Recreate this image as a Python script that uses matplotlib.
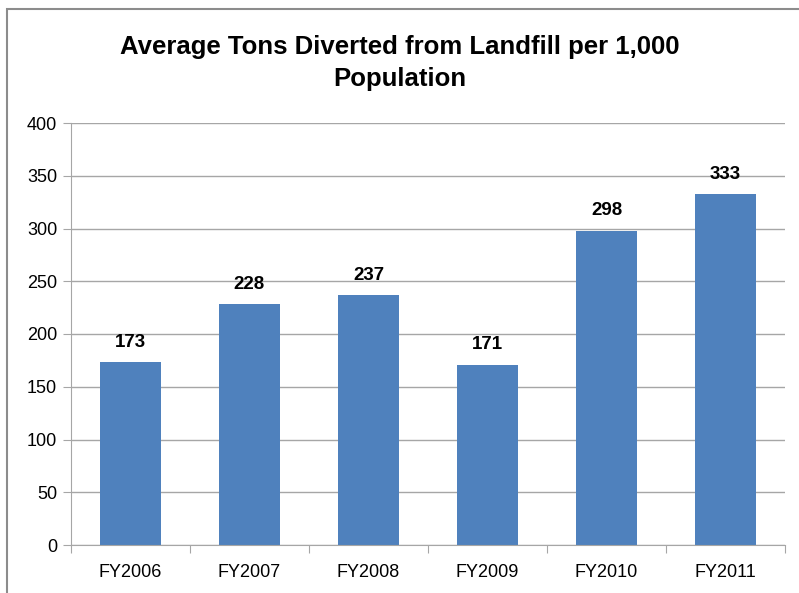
import matplotlib.pyplot as plt
from matplotlib.patches import Rectangle

years = ["FY2006", "FY2007", "FY2008", "FY2009", "FY2010", "FY2011"]
tons = [173, 228, 237, 171, 298, 333]

plt.rcParams["font.family"] = ["Liberation Sans", "DejaVu Sans"]

fig = plt.figure(figsize=(7.99, 5.93), dpi=100)
# outer chart frame (cut off at right and bottom like the screenshot)
fig.patches.append(Rectangle((7 / 799, -0.1), 1.2, (593 - 9) / 593 + 0.1,
                             transform=fig.transFigure, fill=False,
                             edgecolor="#8c8c8c", linewidth=1.5))

ax = fig.add_axes([71 / 799, 1 - 545 / 593, (785 - 71) / 799, (545 - 123) / 593])
x = range(len(years))
ax.bar(x, tons, width=0.52, color="#4F81BD", zorder=2)
for xi, v in zip(x, tons):
    ax.annotate(str(v), (xi, v), xytext=(0, 8), textcoords="offset points",
                ha="center", va="bottom", fontsize=13.5, fontweight="bold")

ax.set_xlim(-0.5, len(years) - 0.5)
ax.set_ylim(0, 400)
ax.set_yticks(range(0, 401, 50))
ax.yaxis.grid(True, color="#a6a6a6", linewidth=1.0, zorder=0)
ax.set_axisbelow(True)
ax.set_xticks([i + 0.5 for i in range(-1, len(years))], minor=False)
ax.set_xticklabels([])
ax.set_xticks(list(x), minor=True)
ax.set_xticklabels(years, minor=True)
ax.tick_params(axis="x", which="major", length=6, color="#a6a6a6")
ax.tick_params(axis="x", which="minor", length=0, pad=14, labelsize=13)
ax.tick_params(axis="y", length=6, color="#a6a6a6", labelsize=13, pad=4)
for s in ["top", "right"]:
    ax.spines[s].set_visible(False)
ax.spines["left"].set_color("#a6a6a6")
ax.spines["bottom"].set_color("#a6a6a6")

fig.text(0.5, 1 - 47 / 593, "Average Tons Diverted from Landfill per 1,000",
         ha="center", va="center", fontsize=18.5, fontweight="bold")
fig.text(0.5, 1 - 79 / 593, "Population",
         ha="center", va="center", fontsize=18.5, fontweight="bold")

fig.savefig("out.png", dpi=100)
